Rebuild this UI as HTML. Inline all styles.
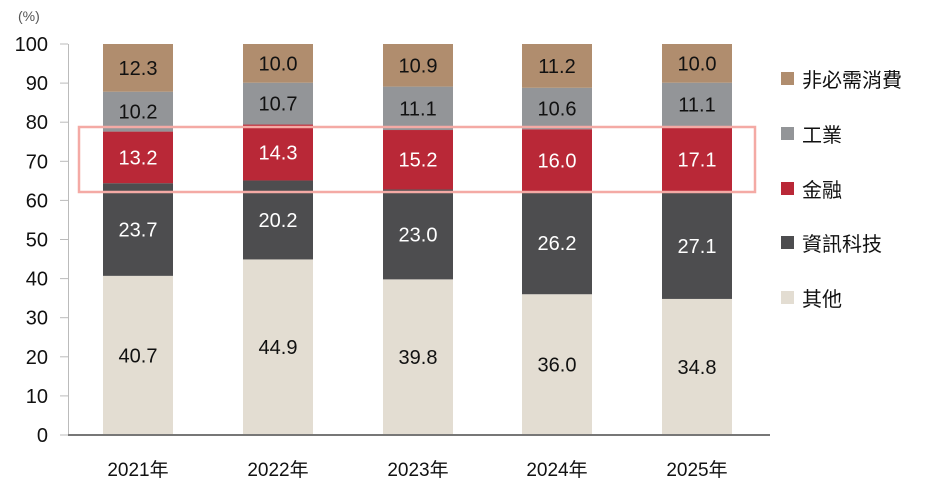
<!DOCTYPE html>
<html><head><meta charset="utf-8"><style>
html,body{margin:0;padding:0;background:#fff;}
svg{display:block;font-family:"Liberation Sans","Noto Sans CJK TC",sans-serif;}
</style></head><body>
<svg id="c" width="925" height="491" viewBox="0 0 925 491" xmlns="http://www.w3.org/2000/svg"></svg>
<script>
const s=document.getElementById('c');let h='';
const y0=435,k=3.91;
const Y=v=>y0-v*k;
h+='<text x="18" y="21" font-size="14" fill="#555">(%)</text>';
for(let v=0;v<=100;v+=10){const y=Y(v);h+=`<line x1="60" y1="${y}" x2="68" y2="${y}" stroke="#bbb" stroke-width="1"/>`;
h+=`<text x="48" y="${y+7}" font-size="20" text-anchor="end" fill="#111">${v}</text>`;}
h+=`<line x1="68.5" y1="44" x2="68.5" y2="435" stroke="#bbb" stroke-width="1"/>`;
const cols=['#e3ddd2','#4d4d4f','#b92837','#939598','#b08d6e'];
const tc=['#111','#fff','#fff','#111','#111'];
const data=[[40.7,23.7,13.2,10.2,12.3],[44.9,20.2,14.3,10.7,10.0],[39.8,23.0,15.2,11.1,10.9],[36.0,26.2,16.0,10.6,11.2],[34.8,27.1,17.1,11.1,10.0]];
const xs=[103,243,383,522,662];const yrs=['2021年','2022年','2023年','2024年','2025年'];
data.forEach((d,i)=>{let c=0;const x=xs[i];
d.forEach((v,j)=>{let a=c,b=Math.min(c+v,100);if(j==4)b=100;
const yt=Y(b),yb=Y(a);h+=`<rect x="${x}" y="${yt}" width="70" height="${yb-yt}" fill="${cols[j]}"/>`;
h+=`<text x="${x+35}" y="${(yt+yb)/2+7}" font-size="20" text-anchor="middle" fill="${tc[j]}">${v.toFixed(1)}</text>`;c+=v;});
h+=`<text x="${x+35}" y="476" font-size="19" text-anchor="middle" fill="#111">${yrs[i]}</text>`;});
h+=`<line x1="68" y1="435" x2="770" y2="435" stroke="#777" stroke-width="2"/>`;
h+=`<rect x="79" y="127" width="676" height="65" fill="none" stroke="#f4aaa5" stroke-width="2.5"/>`;
const lg=[['非必需消費','#b08d6e',79],['工業','#939598',134],['金融','#b92837',189],['資訊科技','#4d4d4f',243],['其他','#e3ddd2',298]];
lg.forEach(l=>{h+=`<rect x="781" y="${l[2]-7}" width="13" height="13" fill="${l[1]}"/><text x="802" y="${l[2]+8}" font-size="20" fill="#111">${l[0]}</text>`;});
s.innerHTML=h;
</script>
</body></html>
